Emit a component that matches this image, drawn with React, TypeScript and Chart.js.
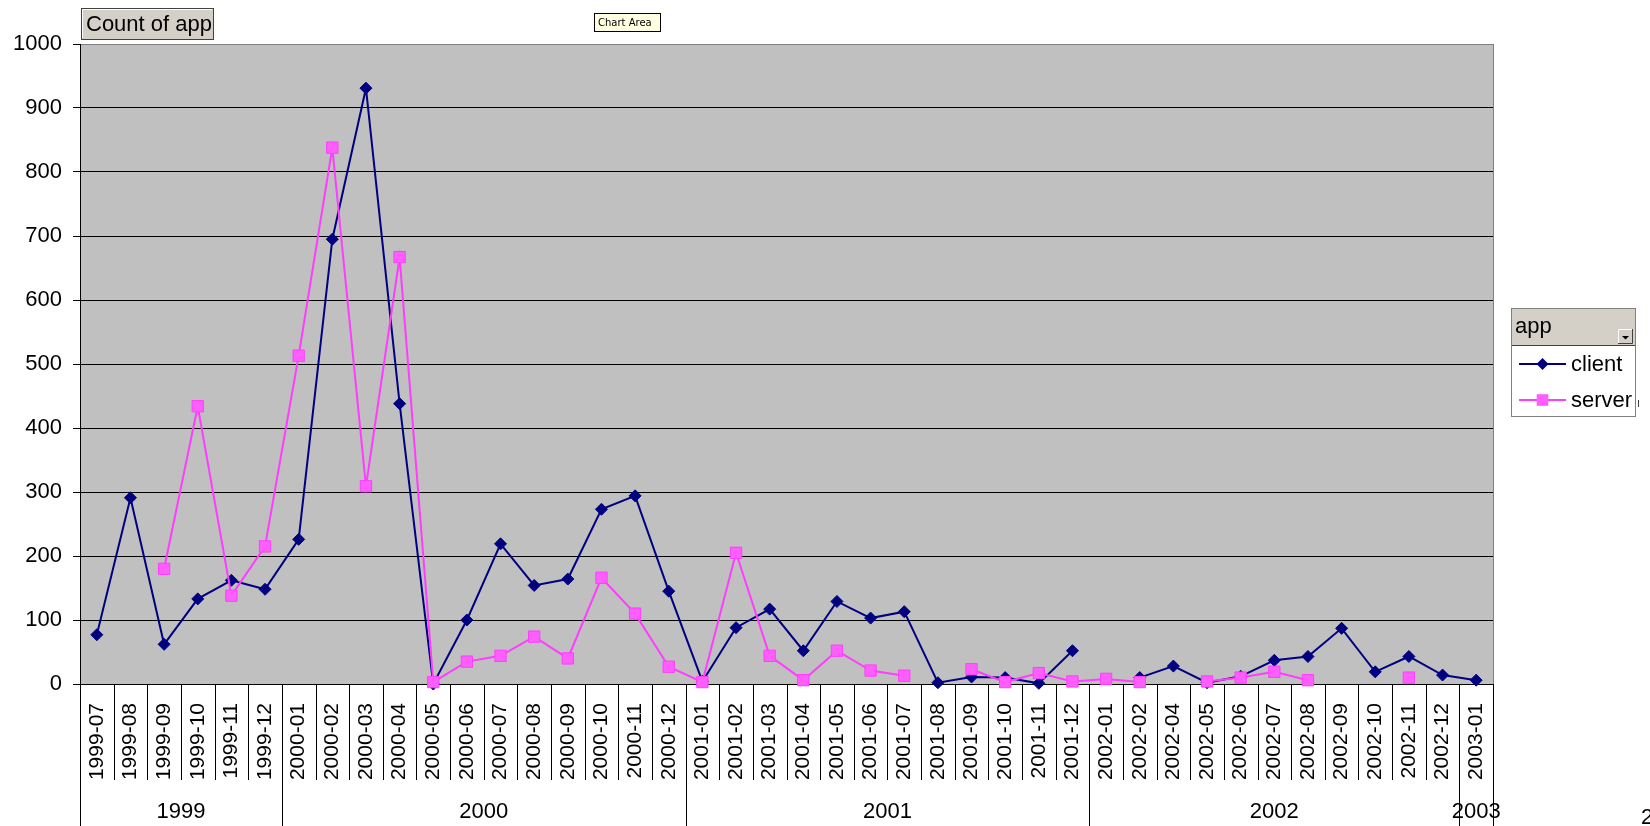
import React, { useEffect, useRef } from 'react';
import { Chart, registerables } from 'chart.js';

Chart.register(...registerables);

// ---------- data ----------
const months: string[] = [
  '1999-07', '1999-08', '1999-09', '1999-10', '1999-11', '1999-12',
  '2000-01', '2000-02', '2000-03', '2000-04', '2000-05', '2000-06',
  '2000-07', '2000-08', '2000-09', '2000-10', '2000-11', '2000-12',
  '2001-01', '2001-02', '2001-03', '2001-04', '2001-05', '2001-06',
  '2001-07', '2001-08', '2001-09', '2001-10', '2001-11', '2001-12',
  '2002-01', '2002-02', '2002-04', '2002-05', '2002-06', '2002-07',
  '2002-08', '2002-09', '2002-10', '2002-11', '2002-12',
  '2003-01',
];

const clientCounts: (number | null)[] = [
  77, 291, 62, 133, 162, 148,
  226, 695, 931, 438, 0, 100,
  219, 154, 164, 273, 294, 145,
  4, 88, 117, 52, 129, 103,
  113, 2, 11, 10, 1, 52,
  null, 10, 28, 2, 12, 37,
  43, 87, 19, 43, 14,
  6,
];

const serverCounts: (number | null)[] = [
  null, null, 180, 434, 138, 215,
  513, 838, 309, 667, 3, 35,
  44, 74, 40, 166, 110, 27,
  3, 205, 44, 6, 52, 21,
  13, null, 23, 3, 17, 4,
  8, 3, null, 4, 10, 19,
  6, null, null, 10, null,
  null,
];

const seriesNames: string[] = ['client', 'server'];
const yMin = 0;
const yMax = 1000;
const yStep = 100;
const dataFieldLabel = 'Count of app';
const legendTitle = 'app';
const hoverTipText = 'Chart Area';

const FONT = '"Liberation Sans", Arial, sans-serif';

const CLIENT_COLOR = '#000080';
const SERVER_LINE = '#ff3dff';
const SERVER_FILL = '#ff5eff';

function drawMarker(ctx: CanvasRenderingContext2D, style: string, x: number, y: number, fill: string) {
  ctx.fillStyle = fill;
  ctx.beginPath();
  if (style === 'rectRot') {
    const r = 6;
    ctx.moveTo(x, y - r);
    ctx.lineTo(x + r, y);
    ctx.lineTo(x, y + r);
    ctx.lineTo(x - r, y);
    ctx.closePath();
  } else {
    const h = 5.8;
    ctx.rect(x - h, y - h, 2 * h, 2 * h);
  }
  ctx.fill();
}

const decorPlugin = {
  id: 'pivotDecor',
  beforeDraw(chart: any) {
    const { ctx, chartArea: a } = chart;
    ctx.save();
    ctx.fillStyle = '#ffffff';
    ctx.fillRect(0, 0, chart.width, chart.height);
    ctx.fillStyle = '#c0c0c0';
    ctx.fillRect(a.left, a.top, a.right - a.left, a.bottom - a.top);
    ctx.restore();
  },
  afterDraw(chart: any) {
    const { ctx, chartArea: a } = chart;
    const x = chart.scales.x;
    const n = months.length;
    const half = (x.getPixelForValue(1) - x.getPixelForValue(0)) / 2;
    const edge = (i: number) => (i < n ? x.getPixelForValue(i) - half : x.getPixelForValue(n - 1) + half);
    const yr = (i: number) => months[i].slice(0, 4);

    ctx.save();
    // plot right border
    ctx.strokeStyle = '#808080';
    ctx.lineWidth = 1;
    ctx.beginPath();
    ctx.moveTo(Math.round(a.right) + 0.5, a.top);
    ctx.lineTo(Math.round(a.right) + 0.5, a.bottom);
    ctx.stroke();

    // category table lines
    ctx.strokeStyle = '#000';
    for (let i = 0; i <= n; i++) {
      const px = Math.round(edge(i)) + 0.5;
      const boundary = i === 0 || i === n || yr(i) !== yr(i - 1);
      ctx.beginPath();
      ctx.moveTo(px, a.bottom);
      ctx.lineTo(px, boundary ? chart.height : a.bottom + 96);
      ctx.stroke();
    }

    // year labels
    ctx.fillStyle = '#000';
    ctx.font = `22px ${FONT}`;
    ctx.textAlign = 'center';
    ctx.textBaseline = 'middle';
    let s = 0;
    for (let i = 1; i <= n; i++) {
      if (i === n || yr(i) !== yr(s)) {
        ctx.fillText(yr(s), (edge(s) + edge(i)) / 2, 812);
        s = i;
      }
    }

    // "Count of app" field button
    const bx = 81, by = 8, bw = 132, bh = 31;
    ctx.fillStyle = '#d4d0c8';
    ctx.fillRect(bx, by, bw, bh);
    ctx.strokeStyle = '#ffffff';
    ctx.beginPath();
    ctx.moveTo(bx + 1.5, by + bh - 1);
    ctx.lineTo(bx + 1.5, by + 1.5);
    ctx.lineTo(bx + bw - 1, by + 1.5);
    ctx.stroke();
    ctx.strokeStyle = '#404040';
    ctx.strokeRect(bx + 0.5, by + 0.5, bw, bh);
    ctx.fillStyle = '#000';
    ctx.textAlign = 'left';
    ctx.fillText(dataFieldLabel, bx + 5, by + bh / 2 + 1);

    // "Chart Area" tip
    ctx.fillStyle = '#ffffe1';
    ctx.fillRect(594, 13, 66, 18);
    ctx.strokeStyle = '#000';
    ctx.strokeRect(594.5, 13.5, 66, 18);
    ctx.fillStyle = '#000';
    ctx.font = `10px "DejaVu Sans", sans-serif`;
    ctx.fillText(hoverTipText, 598, 23);

    // legend box
    const lx = 1511, ly = 308, lw = 124, lh = 108, hh = 37;
    ctx.fillStyle = '#ffffff';
    ctx.fillRect(lx, ly, lw, lh);
    ctx.fillStyle = '#d4d0c8';
    ctx.fillRect(lx, ly, lw, hh);
    ctx.strokeStyle = '#404040';
    ctx.beginPath();
    ctx.moveTo(lx, ly + hh + 0.5);
    ctx.lineTo(lx + lw, ly + hh + 0.5);
    ctx.stroke();
    ctx.strokeStyle = '#808080';
    ctx.strokeRect(lx + 0.5, ly + 0.5, lw, lh);
    ctx.fillStyle = '#000';
    ctx.font = `22px ${FONT}`;
    ctx.fillText(legendTitle, lx + 4, ly + 19);
    // dropdown button
    const dx = 1618, dy = 329, dw = 15, dh = 15;
    ctx.fillStyle = '#d4d0c8';
    ctx.fillRect(dx, dy, dw, dh);
    ctx.strokeStyle = '#ffffff';
    ctx.beginPath();
    ctx.moveTo(dx + 0.5, dy + dh);
    ctx.lineTo(dx + 0.5, dy + 0.5);
    ctx.lineTo(dx + dw, dy + 0.5);
    ctx.stroke();
    ctx.strokeStyle = '#404040';
    ctx.beginPath();
    ctx.moveTo(dx, dy + dh - 0.5);
    ctx.lineTo(dx + dw - 0.5, dy + dh - 0.5);
    ctx.lineTo(dx + dw - 0.5, dy);
    ctx.stroke();
    ctx.fillStyle = '#000';
    ctx.beginPath();
    ctx.moveTo(dx + 4, dy + 7);
    ctx.lineTo(dx + 11, dy + 7);
    ctx.lineTo(dx + 7.5, dy + 10.5);
    ctx.closePath();
    ctx.fill();

    // legend entries
    chart.data.datasets.forEach((ds: any, i: number) => {
      const ey = [364, 400][i];
      ctx.strokeStyle = ds.borderColor;
      ctx.lineWidth = 2;
      ctx.beginPath();
      ctx.moveTo(1519, ey);
      ctx.lineTo(1566, ey);
      ctx.stroke();
      drawMarker(ctx, ds.pointStyle, 1542.5, ey, ds.pointBackgroundColor);
      ctx.fillStyle = '#000';
      ctx.font = `22px ${FONT}`;
      ctx.textAlign = 'left';
      ctx.fillText(ds.label, 1571, ey + 1);
    });
    ctx.lineWidth = 1;
    ctx.strokeStyle = '#404040';
    ctx.beginPath();
    ctx.moveTo(1638.5, 400);
    ctx.lineTo(1638.5, 407);
    ctx.stroke();

    // stray glyph at right edge
    ctx.fillStyle = '#000';
    ctx.font = `22px ${FONT}`;
    ctx.fillText('2', 1641, 818);
    ctx.restore();
  },
};

export default function App() {
  const ref = useRef<HTMLCanvasElement>(null);

  useEffect(() => {
    document.body.style.margin = '0';
    const canvas = ref.current;
    if (!canvas) return;
    const chart = new Chart(canvas, {
      type: 'line',
      data: {
        labels: months,
        datasets: [
          {
            label: seriesNames[0],
            data: clientCounts,
            borderColor: CLIENT_COLOR,
            backgroundColor: CLIENT_COLOR,
            pointBackgroundColor: CLIENT_COLOR,
            pointBorderColor: CLIENT_COLOR,
            pointStyle: 'rectRot',
            pointRadius: 6,
            pointBorderWidth: 1,
            borderWidth: 2,
            tension: 0,
            spanGaps: false,
            clip: false as any,
            order: 1,
          },
          {
            label: seriesNames[1],
            data: serverCounts,
            borderColor: SERVER_LINE,
            backgroundColor: SERVER_FILL,
            pointBackgroundColor: SERVER_FILL,
            pointBorderColor: SERVER_LINE,
            pointStyle: 'rect',
            pointRadius: 8,
            pointBorderWidth: 1,
            borderWidth: 2,
            tension: 0,
            spanGaps: false,
            clip: false as any,
            order: 0,
          },
        ],
      },
      options: {
        responsive: false,
        animation: false,
        devicePixelRatio: 1,
        events: [],
        layout: { padding: { top: 44, right: 157, bottom: 0, left: 0 } },
        plugins: {
          legend: { display: false },
          tooltip: { enabled: false },
          title: { display: false },
        },
        scales: {
          x: {
            type: 'category',
            offset: true,
            grid: { display: true, drawOnChartArea: false, drawTicks: false, offset: true },
            border: { display: true, color: '#000', width: 1 },
            ticks: {
              autoSkip: false,
              minRotation: 90,
              maxRotation: 90,
              padding: 19,
              color: '#000',
              font: { family: FONT, size: 21 },
            },
            afterFit: (s: any) => {
              s.height = 142;
            },
          },
          y: {
            min: yMin,
            max: yMax,
            ticks: {
              stepSize: yStep,
              color: '#000',
              padding: 11,
              font: { family: FONT, size: 22 },
              callback: (v: any) => String(v),
            },
            grid: {
              color: (c: any) => (c.tick && c.tick.value === yMax ? '#808080' : '#000'),
              tickColor: '#000',
              tickLength: 7,
              lineWidth: 1,
            },
            border: { display: true, color: '#000', width: 1 },
            afterFit: (s: any) => {
              s.width = 80;
            },
          },
        },
      } as any,
      plugins: [decorPlugin],
    });
    return () => chart.destroy();
  }, []);

  return (
    <div style={{ width: 1650, height: 826, position: 'relative', overflow: 'hidden' }}>
      <canvas ref={ref} width={1650} height={826} style={{ display: 'block', width: 1650, height: 826 }} />
    </div>
  );
}
